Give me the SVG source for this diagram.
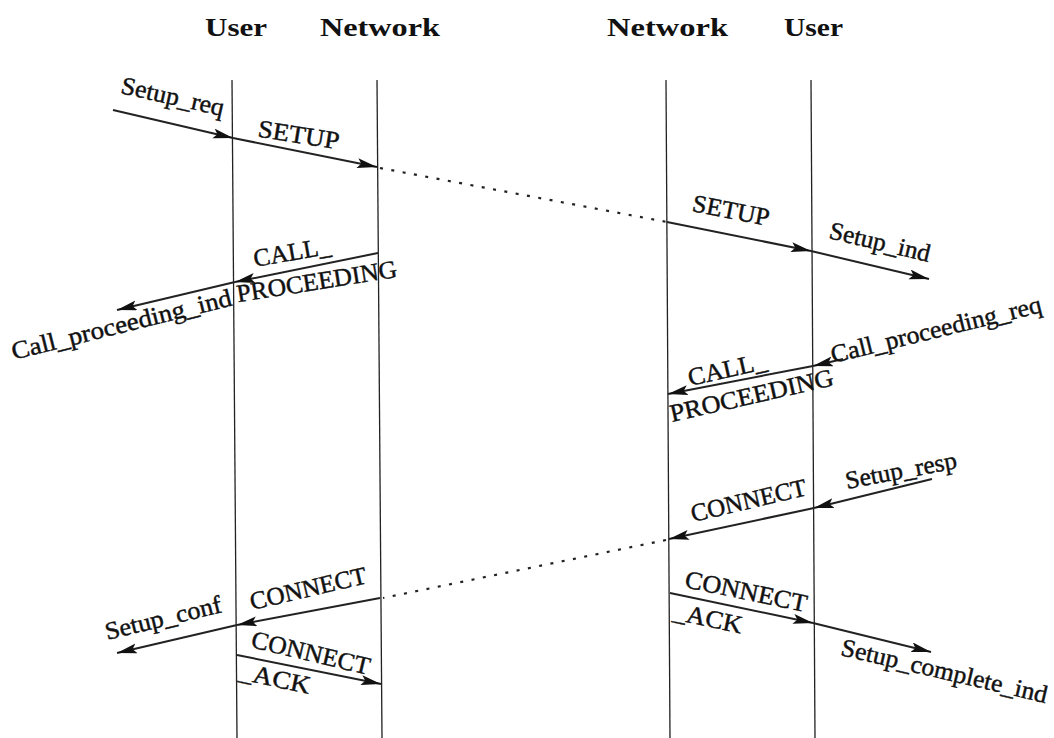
<svg xmlns="http://www.w3.org/2000/svg" width="1054" height="738" viewBox="0 0 1054 738">
  <style>
    .hdr { font-family: "Liberation Serif", "Times New Roman", serif; font-weight: bold; font-size: 26px; fill: #111; }
    .lbl { font-family: "Liberation Serif", "Times New Roman", serif; font-size: 25px; fill: #111; stroke: #111; stroke-width: 0.45; }
    .life { stroke: #222; stroke-width: 1.3; fill: none; }
    .msg { stroke: #222; stroke-width: 2; fill: none; marker-end: url(#arrow); }
    .dots { stroke: #222; stroke-width: 2.2; fill: none; stroke-dasharray: 3 8.5; }
  </style>
  <defs>
    <marker id="arrow" markerUnits="userSpaceOnUse" markerWidth="22" markerHeight="12" refX="20" refY="5" orient="auto">
      <path d="M0,0 L20,5 L0,10 L4,5 Z" fill="#111"/>
    </marker>
  </defs>

  <rect width="1054" height="738" fill="#fff"/>

  <!-- column headers -->
  <g id="headers">
    <text class="hdr" x="205" y="36" textLength="62" lengthAdjust="spacingAndGlyphs">User</text>
    <text class="hdr" x="320" y="36" textLength="120" lengthAdjust="spacingAndGlyphs">Network</text>
    <text class="hdr" x="607" y="36" textLength="121" lengthAdjust="spacingAndGlyphs">Network</text>
    <text class="hdr" x="784" y="36" textLength="59" lengthAdjust="spacingAndGlyphs">User</text>
  </g>

  <!-- lifelines -->
  <g id="lifelines">
    <line id="user-a" class="life" x1="232" y1="80" x2="237" y2="738"/>
    <line id="net-a" class="life" x1="377" y1="80" x2="382" y2="738"/>
    <line id="net-b" class="life" x1="666" y1="80" x2="670" y2="738"/>
    <line id="user-b" class="life" x1="811" y1="80" x2="815" y2="738"/>
  </g>

  <!-- messages -->
  <g id="connectors">
    <line class="msg" x1="113" y1="110" x2="233" y2="138"/>
    <line class="msg" x1="233" y1="138" x2="377" y2="167"/>
    <line class="dots" x1="380" y1="168" x2="667" y2="222"/>
    <line class="msg" x1="667" y1="222" x2="811" y2="251"/>
    <line class="msg" x1="811" y1="251" x2="929" y2="279"/>
    <line class="msg" x1="378" y1="253" x2="235" y2="282"/>
    <line class="msg" x1="235" y1="282" x2="117" y2="310"/>
    <line class="msg" x1="843" y1="359" x2="813" y2="366"/>
    <line class="msg" x1="813" y1="366" x2="668" y2="394"/>
    <line class="msg" x1="932" y1="479" x2="814" y2="508"/>
    <line class="msg" x1="814" y1="508" x2="669" y2="539"/>
    <line class="dots" x1="666" y1="540" x2="383" y2="598"/>
    <line class="msg" x1="380" y1="598" x2="237" y2="625"/>
    <line class="msg" x1="237" y1="625" x2="117" y2="653"/>
    <line class="msg" x1="237" y1="655" x2="381" y2="684"/>
    <line class="msg" x1="670" y1="593" x2="813" y2="623"/>
    <line class="msg" x1="813" y1="623" x2="931" y2="652"/>
  </g>

  <!-- message labels -->
  <g id="labels">
    <text class="lbl" text-anchor="middle" transform="translate(171,104.5) rotate(12.7)" textLength="105" lengthAdjust="spacingAndGlyphs">Setup_req</text>
    <text class="lbl" text-anchor="middle" transform="translate(297.5,143) rotate(9)" textLength="82" lengthAdjust="spacingAndGlyphs">SETUP</text>
    <text class="lbl" text-anchor="middle" transform="translate(729.5,218.5) rotate(11)" textLength="78" lengthAdjust="spacingAndGlyphs">SETUP</text>
    <text class="lbl" text-anchor="middle" transform="translate(878,250) rotate(13.5)" textLength="103" lengthAdjust="spacingAndGlyphs">Setup_ind</text>

    <text class="lbl" transform="translate(255,267) rotate(-10)" textLength="78" lengthAdjust="spacingAndGlyphs">CALL_</text>
    <text class="lbl" text-anchor="middle" transform="translate(318,289.5) rotate(-9)" textLength="162" lengthAdjust="spacingAndGlyphs">PROCEEDING</text>
    <text class="lbl" text-anchor="middle" transform="translate(123.5,332.5) rotate(-14)" textLength="226" lengthAdjust="spacingAndGlyphs">Call_proceeding_ind</text>

    <text class="lbl" text-anchor="middle" transform="translate(938,337.5) rotate(-13.7)" textLength="216" lengthAdjust="spacingAndGlyphs">Call_proceeding_req</text>
    <text class="lbl" transform="translate(690,386) rotate(-12.7)" textLength="80" lengthAdjust="spacingAndGlyphs">CALL_</text>
    <text class="lbl" text-anchor="middle" transform="translate(753.5,403.5) rotate(-12.8)" textLength="167" lengthAdjust="spacingAndGlyphs">PROCEEDING</text>

    <text class="lbl" text-anchor="middle" transform="translate(902.5,478.5) rotate(-10.7)" textLength="113" lengthAdjust="spacingAndGlyphs">Setup_resp</text>
    <text class="lbl" text-anchor="middle" transform="translate(750.5,508.5) rotate(-13.2)" textLength="118" lengthAdjust="spacingAndGlyphs">CONNECT</text>

    <text class="lbl" text-anchor="middle" transform="translate(310,596.5) rotate(-13.1)" textLength="119" lengthAdjust="spacingAndGlyphs">CONNECT</text>
    <text class="lbl" text-anchor="middle" transform="translate(165,626) rotate(-13.6)" textLength="119" lengthAdjust="spacingAndGlyphs">Setup_conf</text>

    <text class="lbl" text-anchor="middle" transform="translate(309,661) rotate(13.3)" textLength="121" lengthAdjust="spacingAndGlyphs">CONNECT</text>
    <text class="lbl" transform="translate(238,679) rotate(12)" textLength="72" lengthAdjust="spacingAndGlyphs">_ACK</text>

    <text class="lbl" text-anchor="middle" transform="translate(744.5,599.5) rotate(11.7)" textLength="124" lengthAdjust="spacingAndGlyphs">CONNECT</text>
    <text class="lbl" transform="translate(672,619) rotate(12)" textLength="70" lengthAdjust="spacingAndGlyphs">_ACK</text>
    <text class="lbl" text-anchor="middle" transform="translate(942.5,679) rotate(13.2)" textLength="211" lengthAdjust="spacingAndGlyphs">Setup_complete_ind</text>
  </g>
</svg>
